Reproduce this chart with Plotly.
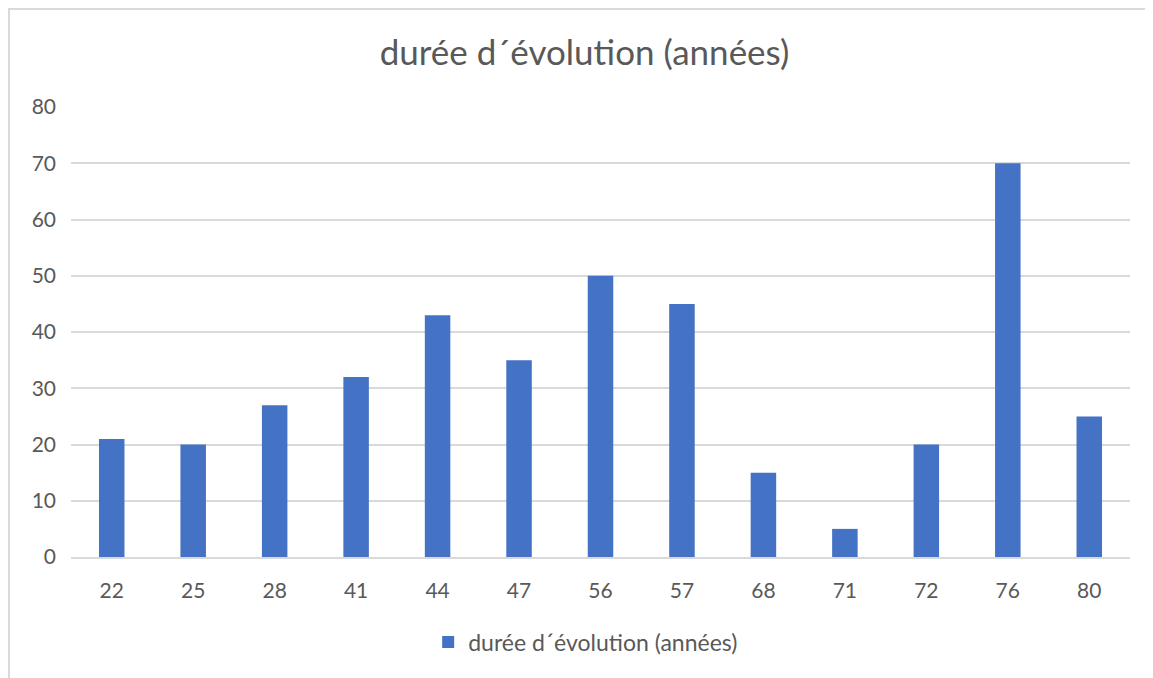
import plotly.graph_objects as go

# ages (categories) and duration of evolution in years
categories = ["22", "25", "28", "41", "44", "47", "56", "57", "68", "71", "72", "76", "80"]
durations = [21, 20, 27, 32, 43, 35, 50, 45, 15, 5, 20, 70, 25]
series_name = "durée d´évolution (années)"
y_ticks = [0, 10, 20, 30, 40, 50, 60, 70, 80]

text_color = "#595959"
grid_color = "#d9d9d9"
font_family = "Lato, Calibri, 'Open Sans', sans-serif"

fig = go.Figure()
fig.add_trace(go.Bar(
    x=categories, y=durations, name=series_name,
    marker=dict(color="#4472c4", line=dict(width=0)),
    showlegend=True,
))

# left/top chart border (right and bottom edges are cut off in the original)
fig.add_shape(type="rect", xref="paper", yref="paper",
              x0=-0.0585, x1=1.3, y0=-0.5, y1=1.218,
              line=dict(color=grid_color, width=2), layer="below")

# page body has an 8px margin, so margins are shifted to compensate
fig.update_layout(
    width=1153, height=678,
    margin=dict(l=63, r=31, t=99, b=129),
    paper_bgcolor="white", plot_bgcolor="white",
    font=dict(family=font_family, color=text_color, size=21),
    title=dict(text=series_name, x=0.5, xanchor="center", y=1 - 45 / 678, yanchor="middle",
               font=dict(size=35, color=text_color, family=font_family)),
    bargap=0.687,
    legend=dict(orientation="h", x=0.486, xanchor="center", y=-0.189, yanchor="middle",
                font=dict(size=23, color=text_color)),
    xaxis=dict(type="category", showgrid=False, ticks="", showline=True,
               linecolor=grid_color, linewidth=1.5, ticklabelstandoff=14),
    yaxis=dict(range=[0, 80], tickvals=y_ticks, showgrid=True, gridcolor=grid_color,
               gridwidth=1.5, zeroline=False, ticks="", showline=False, ticklabelstandoff=14),
)

fig.write_html("out.html")
